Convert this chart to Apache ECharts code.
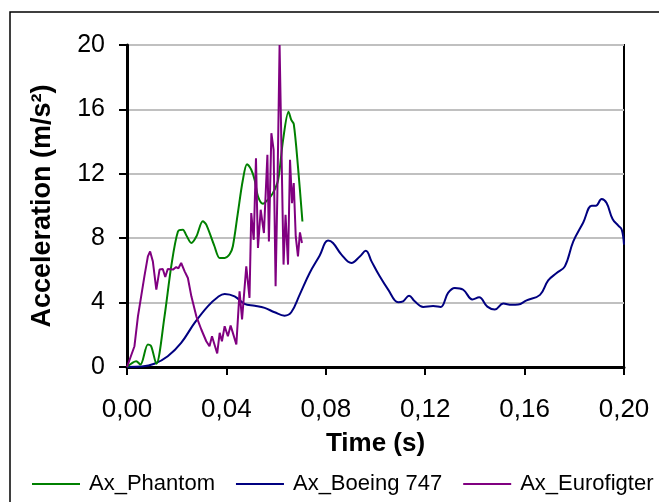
<!DOCTYPE html>
<html>
<head>
<meta charset="utf-8">
<script src="https://cdn.jsdelivr.net/npm/echarts@6/dist/echarts.min.js"></script>
<style>
html,body{margin:0;padding:0;background:#fff;}
#chart{width:659px;height:502px;}
</style>
</head>
<body>
<div id="chart"></div>
<script>
// ---- data ----
const seriesNames = ['Ax_Phantom', 'Ax_Boeing 747', 'Ax_Eurofigter'];
const xTicks = [0, 0.04, 0.08, 0.12, 0.16, 0.20];
const yTicks = [0, 4, 8, 12, 16, 20];

const phantomT = [0, 0.0037, 0.0054, 0.0084, 0.0097, 0.0118, 0.0151, 0.0178, 0.0205, 0.0225, 0.0238, 0.0259, 0.0279, 0.0305, 0.0319, 0.0352, 0.0373, 0.0393, 0.0413, 0.0426, 0.0446, 0.0466, 0.0483, 0.0500, 0.0514, 0.0527, 0.0547, 0.0567, 0.0587, 0.0608, 0.0628, 0.0650, 0.0661, 0.0671, 0.0688, 0.0706];
const phantomA = [0, 0.36, 0.15, 1.4, 1.3, 0.2, 3.15, 6.25, 8.42, 8.53, 8.2, 7.7, 8.1, 9.05, 8.84, 7.5, 6.77, 6.77, 7.0, 7.5, 9.56, 11.6, 12.6, 12.25, 11.6, 10.6, 10.14, 10.4, 10.8, 11.6, 14.1, 15.86, 15.35, 15.1, 12.45, 9.04];

const boeingT = [0, 0.006, 0.011, 0.0164, 0.0218, 0.0272, 0.0325, 0.0366, 0.0393, 0.0433, 0.0473, 0.0514, 0.0554, 0.0594, 0.0634, 0.0661, 0.0695, 0.0735, 0.0775, 0.0809, 0.0829, 0.0863, 0.0903, 0.0937, 0.0961, 0.0984, 0.1017, 0.1051, 0.1091, 0.1111, 0.1135, 0.1158, 0.1192, 0.1232, 0.1262, 0.1292, 0.1319, 0.1353, 0.1390, 0.1417, 0.1450, 0.1480, 0.1514, 0.1548, 0.1574, 0.1608, 0.1662, 0.1695, 0.1729, 0.1762, 0.1796, 0.1836, 0.1870, 0.1887, 0.1910, 0.1930, 0.1954, 0.1977, 0.1991, 0.2000];
const boeingA = [0, 0.03, 0.2, 0.67, 1.5, 2.74, 3.77, 4.35, 4.54, 4.39, 3.92, 3.81, 3.67, 3.4, 3.19, 3.4, 4.5, 5.84, 6.91, 7.85, 7.7, 6.98, 6.46, 6.87, 7.22, 6.56, 5.63, 4.81, 4.02, 4.08, 4.43, 4.08, 3.73, 3.79, 3.73, 4.6, 4.91, 4.8, 4.2, 4.33, 3.75, 3.57, 3.94, 3.86, 3.88, 4.14, 4.48, 5.38, 5.84, 6.25, 7.8, 8.98, 10.02, 10.02, 10.43, 10.18, 9.19, 8.78, 8.53, 7.6];

const euroT = [0, 0.003, 0.0044, 0.0057, 0.007, 0.0084, 0.0093, 0.0104, 0.0118, 0.0131, 0.0144, 0.0154, 0.0164, 0.0185, 0.0198, 0.0207, 0.0218, 0.0232, 0.0245, 0.0259, 0.0279, 0.0299, 0.0319, 0.0332, 0.0342, 0.0352, 0.0363, 0.0373, 0.0382, 0.0393, 0.0406, 0.0417, 0.0426, 0.0440, 0.0453, 0.0463, 0.0480, 0.0493, 0.0500, 0.0510, 0.0519, 0.0527, 0.0538, 0.0551, 0.0565, 0.0571, 0.0581, 0.0590, 0.0598, 0.0605, 0.0614, 0.0621, 0.0630, 0.0638, 0.0648, 0.0656, 0.0664, 0.0671, 0.0679, 0.0688, 0.0696, 0.0704];
const euroA = [0, 1.29, 3.15, 4.39, 5.63, 6.87, 7.18, 6.56, 4.81, 6.05, 6.09, 5.59, 6.09, 6.05, 6.21, 6.13, 6.46, 5.94, 5.53, 4.39, 3.15, 2.33, 1.6, 1.29, 1.91, 1.4, 0.84, 2.12, 1.6, 2.53, 1.91, 2.57, 2.12, 1.4, 4.7, 2.95, 6.25, 4.29, 9.56, 7.9, 12.97, 7.39, 9.77, 8.32, 13.18, 7.8, 14.52, 13.49, 5.01, 10.7, 20, 20, 6.36, 9.46, 6.36, 12.87, 10.18, 11.42, 8.11, 6.87, 8.36, 7.7];

// ---- chart ----
const FONT = '"Liberation Sans", Arial, sans-serif';
const pairs = (xs, ys) => xs.map((x, i) => [x, ys[i]]);
const chart = echarts.init(document.getElementById('chart'), null, {renderer: 'canvas'});

chart.setOption({
  backgroundColor: '#fff',
  animation: false,
  textStyle: {fontFamily: FONT, color: '#000'},
  graphic: [{
    type: 'rect', silent: true, z: -1,
    shape: {x: 10, y: 12, width: 700, height: 600},
    style: {fill: 'none', stroke: '#000', lineWidth: 1.5}
  }],
  grid: {
    left: 127, right: 35, top: 45, bottom: 135,
    show: true, borderColor: '#000', borderWidth: 2, backgroundColor: 'transparent'
  },
  legend: {
    left: 32, top: 473, width: 660, padding: 0,
    itemWidth: 48, itemHeight: 2, itemGap: 21,
    icon: 'rect',
    textStyle: {fontFamily: FONT, fontSize: 22, color: '#000', padding: [0, 0, 0, 4]},
    data: seriesNames
  },
  xAxis: {
    type: 'value', min: 0, max: 0.2, interval: 0.04,
    name: 'Time (s)', nameLocation: 'middle', nameGap: 64,
    nameTextStyle: {fontFamily: FONT, fontSize: 26, fontWeight: 'bold', color: '#000'},
    axisLine: {show: true, onZero: false, lineStyle: {color: '#000', width: 3}},
    axisTick: {show: true, inside: false, length: 8, lineStyle: {color: '#000', width: 2}},
    axisLabel: {fontFamily: FONT, fontSize: 26, color: '#000', margin: 30,
      formatter: v => v.toFixed(2).replace('.', ',')},
    splitLine: {show: false}
  },
  yAxis: {
    type: 'value', min: 0, max: 20, interval: 4,
    name: 'Acceleration (m/s²)', nameLocation: 'middle', nameGap: 71,
    nameTextStyle: {fontFamily: FONT, fontSize: 27, fontWeight: 'bold', color: '#000'},
    axisLine: {show: true, lineStyle: {color: '#000', width: 3}},
    axisTick: {show: true, inside: false, length: 8, lineStyle: {color: '#000', width: 2}},
    axisLabel: {fontFamily: FONT, fontSize: 25, color: '#000', margin: 22,
      formatter: v => yTicks.includes(v) ? String(v) : ''},
    splitLine: {show: true, lineStyle: {color: '#c0c0c0', width: 2}}
  },
  series: [
    {name: seriesNames[0], type: 'line', data: pairs(phantomT, phantomA), smooth: 0.3,
     showSymbol: false, symbol: 'none', color: '#008000', lineStyle: {color: '#008000', width: 2}, clip: true, z: 3},
    {name: seriesNames[1], type: 'line', data: pairs(boeingT, boeingA), smooth: 0.4,
     showSymbol: false, symbol: 'none', color: '#000080', lineStyle: {color: '#000080', width: 2}, clip: true, z: 2},
    {name: seriesNames[2], type: 'line', data: pairs(euroT, euroA), smooth: false,
     showSymbol: false, symbol: 'none', color: '#800080', lineStyle: {color: '#800080', width: 2}, clip: true, z: 4}
  ]
});
</script>
</body>
</html>
